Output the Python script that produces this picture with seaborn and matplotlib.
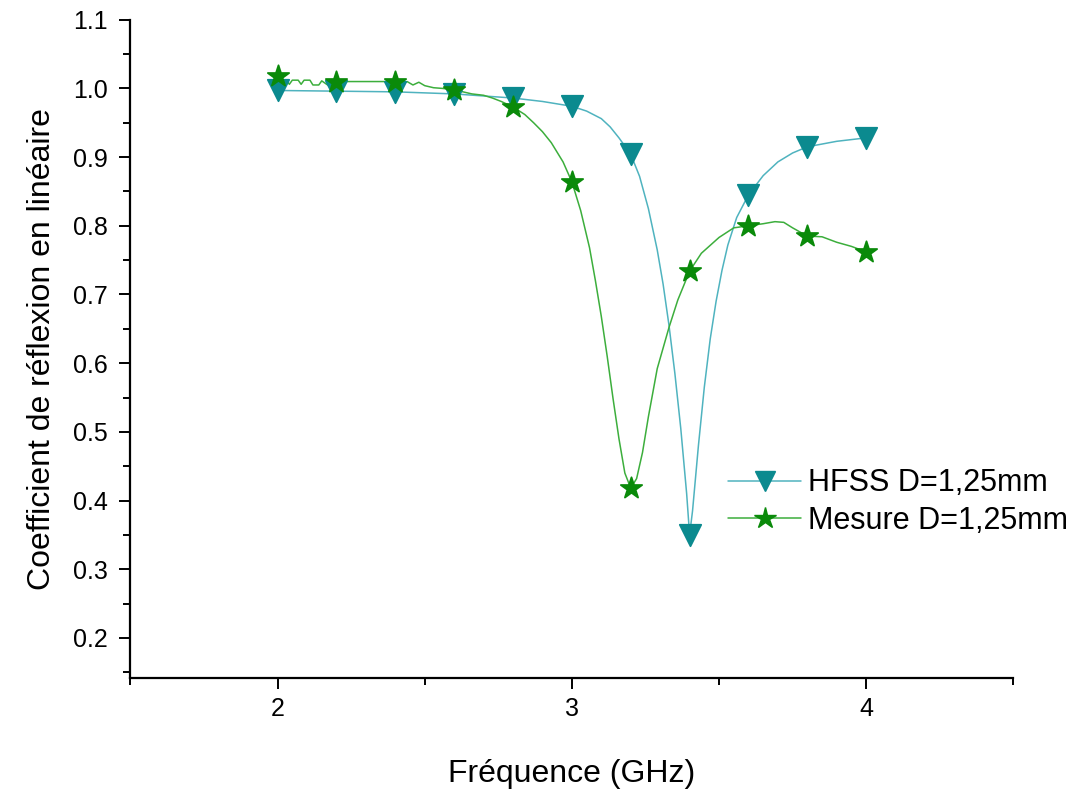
import numpy as np
import pandas as pd
import matplotlib
matplotlib.use("Agg")
import matplotlib.pyplot as plt
from matplotlib.lines import Line2D
from matplotlib.ticker import MultipleLocator
import seaborn as sns

# --- data ---
# marker points (every 0.2 GHz)
freq_markers = [2.0, 2.2, 2.4, 2.6, 2.8, 3.0, 3.2, 3.4, 3.6, 3.8, 4.0]
hfss_markers = [0.997, 0.996, 0.995, 0.992, 0.986, 0.974, 0.904, 0.350, 0.845, 0.915, 0.928]
mesure_markers = [1.018, 1.010, 1.010, 0.998, 0.973, 0.864, 0.418, 0.734, 0.800, 0.785, 0.762]

# HFSS curve
hfss_freq = [2.0, 2.2, 2.4, 2.6, 2.8, 2.9, 3.0, 3.05, 3.1, 3.13, 3.16, 3.2, 3.23, 3.26,
             3.29, 3.31, 3.33, 3.35, 3.37, 3.39, 3.4, 3.41, 3.43, 3.45, 3.47, 3.49, 3.51,
             3.53, 3.56, 3.6, 3.65, 3.7, 3.75, 3.8, 3.9, 4.0]
hfss_curve = [0.997, 0.996, 0.995, 0.992, 0.986, 0.981, 0.974, 0.967, 0.956, 0.944, 0.928,
              0.904, 0.872, 0.825, 0.765, 0.715, 0.655, 0.585, 0.505, 0.410, 0.350, 0.385,
              0.480, 0.565, 0.635, 0.690, 0.735, 0.772, 0.812, 0.845, 0.873, 0.893, 0.906,
              0.915, 0.923, 0.928]

# measured curve traced along the (noisy) line
mesure_freq = [2.0, 2.01, 2.03, 2.04, 2.05, 2.07, 2.08, 2.09, 2.11, 2.12, 2.14, 2.15, 2.17,
               2.18, 2.2, 2.3, 2.4, 2.42, 2.44, 2.46, 2.48, 2.5, 2.53, 2.56, 2.6, 2.63, 2.66,
               2.7, 2.73, 2.76, 2.8, 2.84, 2.87, 2.9, 2.93, 2.97, 3.0, 3.03, 3.06, 3.08, 3.1,
               3.12, 3.14, 3.16, 3.18, 3.2, 3.22, 3.24, 3.26, 3.29, 3.33, 3.36, 3.4, 3.44, 3.5,
               3.55, 3.6, 3.65, 3.69, 3.72, 3.75, 3.8, 3.85, 3.9, 3.95, 4.0]
mesure_curve = [1.018, 1.013, 1.012, 1.006, 1.012, 1.012, 1.006, 1.012, 1.012, 1.005, 1.005,
                1.011, 1.005, 1.011, 1.010, 1.010, 1.010, 1.005, 1.010, 1.005, 1.009, 1.004,
                1.001, 1.000, 0.998, 0.995, 0.992, 0.990, 0.986, 0.981, 0.973, 0.962, 0.950,
                0.937, 0.921, 0.893, 0.864, 0.822, 0.768, 0.720, 0.668, 0.610, 0.548, 0.490,
                0.440, 0.418, 0.432, 0.470, 0.522, 0.592, 0.652, 0.692, 0.734, 0.760, 0.783,
                0.797, 0.800, 0.803, 0.806, 0.805, 0.797, 0.785, 0.784, 0.776, 0.770, 0.762]

hfss_line_col = "#4fb3bf"
hfss_mark_col = "#0b8a8f"
mes_line_col = "#3cae3c"
mes_mark_col = "#0a8a0a"

sns.set_style("ticks")
plt.rcParams["font.family"] = ["Liberation Sans", "DejaVu Sans"]

fig = plt.figure(figsize=(10.78, 7.89), dpi=100)
ax = fig.add_axes([0.121, 0.141, 0.819, 0.834])

sns.lineplot(x=hfss_freq, y=hfss_curve, ax=ax, color=hfss_line_col, lw=1.1, sort=False)
sns.lineplot(x=mesure_freq, y=mesure_curve, ax=ax, color=mes_line_col, lw=1.1, sort=False)
sns.scatterplot(x=freq_markers, y=hfss_markers, ax=ax, marker="v", s=240,
                color=hfss_mark_col, edgecolor=hfss_mark_col, zorder=3)
sns.scatterplot(x=freq_markers, y=mesure_markers, ax=ax, marker="*", s=260,
                color=mes_mark_col, edgecolor=mes_mark_col, zorder=3)

ax.set_xlim(1.5, 4.5)
ax.set_ylim(0.142, 1.1)
ax.set_xticks([2, 3, 4])
ax.xaxis.set_minor_locator(MultipleLocator(0.5))
ax.yaxis.set_minor_locator(MultipleLocator(0.05))
yt = np.round(np.arange(0.2, 1.11, 0.1), 1)
ax.set_yticks(yt)
ax.set_yticklabels([f"{v:.1f}" for v in yt])

sns.despine(ax=ax)
for s in ["left", "bottom"]:
    ax.spines[s].set_linewidth(1.6)
    ax.spines[s].set_color("black")
ax.tick_params(which="major", direction="out", length=8, width=1.4, labelsize=18,
               colors="black", pad=6)
ax.tick_params(axis="y", which="major", pad=8)
ax.tick_params(which="minor", direction="out", length=5, width=1.4, colors="black")

ax.set_xlabel("Fréquence (GHz)", fontsize=23, labelpad=27, color="black")
ax.set_ylabel("Coefficient de réflexion en linéaire", fontsize=23, labelpad=12, color="black")

handles = [
    Line2D([], [], color=hfss_line_col, lw=1.1, marker="v", markersize=15,
           markerfacecolor=hfss_mark_col, markeredgecolor=hfss_mark_col),
    Line2D([], [], color=mes_line_col, lw=1.1, marker="*", markersize=16,
           markerfacecolor=mes_mark_col, markeredgecolor=mes_mark_col),
]
leg = ax.legend(handles, ["HFSS D=1,25mm", "Mesure D=1,25mm"], frameon=False, fontsize=22,
                loc="center left", bbox_to_anchor=(0.677, 0.267), borderaxespad=0,
                borderpad=0, handlelength=2.4, handletextpad=0.2, labelspacing=0.25)
for t in leg.get_texts():
    t.set_color("black")

fig.savefig("out.png", dpi=100)
